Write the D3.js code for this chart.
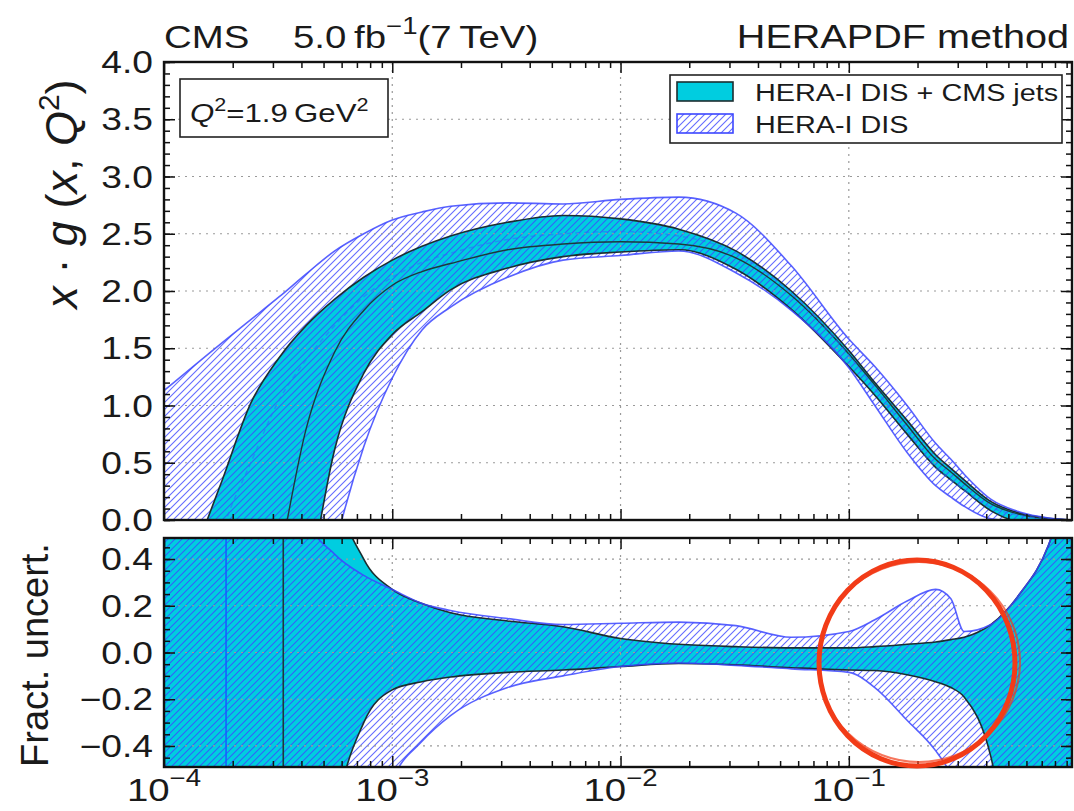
<!DOCTYPE html>
<html>
<head>
<meta charset="utf-8">
<script src="https://cdn.jsdelivr.net/npm/d3@7"></script>
<style>
  body { margin: 0; background: #fff; }
  svg text { font-family: "Liberation Sans", Arial, Helvetica, sans-serif; fill: #1a1a1a; }
</style>
</head>
<body>
<svg id="chart" width="1074" height="811"></svg>
<script>
// ---- data ----
const xGrid   = [1e-4, 1.8e-4, 2.4e-4, 3.2e-4, 4.2e-4, 5.6e-4, 7.5e-4, 1e-3, 1.35e-3, 1.8e-3, 3.2e-3, 5.6e-3, 1e-2, 1.8e-2, 3.2e-2, 5.6e-2, 0.1, 0.13, 0.18, 0.24, 0.28, 0.32, 0.42, 0.56, 0.75, 0.95];

// x*g(x,Q2), HERA-I DIS + CMS jets
const jetsUp  = [-1.0, 0.35, 1.02, 1.42, 1.70, 1.93, 2.12, 2.27, 2.39, 2.48, 2.60, 2.66, 2.63, 2.54, 2.35, 2.00, 1.48, 1.20, 0.87, 0.57, 0.45, 0.35, 0.16, 0.06, 0.014, 0.0];
const jetsMid = [-5.0, -2.8, -1.5, -0.35, 0.80, 1.47, 1.83, 2.05, 2.17, 2.24, 2.36, 2.41, 2.43, 2.41, 2.29, 1.96, 1.45, 1.18, 0.83, 0.53, 0.42, 0.32, 0.14, 0.05, 0.011, 0.0];
const jetsLo  = [-6.0, -4.5, -3.2, -1.9, -0.70, 0.62, 1.28, 1.62, 1.82, 2.01, 2.20, 2.30, 2.34, 2.36, 2.19, 1.84, 1.34, 1.09, 0.75, 0.46, 0.35, 0.26, 0.08, -0.01, -0.01, 0.0];
// x*g(x,Q2), HERA-I DIS only
const disUp   = [1.13, 1.55, 1.75, 1.95, 2.15, 2.35, 2.50, 2.62, 2.69, 2.74, 2.77, 2.76, 2.80, 2.82, 2.68, 2.22, 1.58, 1.34, 1.00, 0.67, 0.53, 0.40, 0.18, 0.07, 0.018, 0.0];
const disMid  = [-2.5, -0.1, 0.50, 1.05, 1.40, 1.70, 1.95, 2.12, 2.25, 2.33, 2.45, 2.50, 2.52, 2.48, 2.33, 1.98, 1.44, 1.15, 0.78, 0.46, 0.35, 0.26, 0.11, 0.04, 0.01, 0.0];
const disLo   = [-7.0, -5.0, -4.0, -2.8, -1.5, -0.25, 0.64, 1.24, 1.66, 1.86, 2.12, 2.27, 2.31, 2.35, 2.16, 1.83, 1.33, 1.00, 0.59, 0.30, 0.20, 0.12, 0.01, -0.01, -0.01, 0.0];

// fractional uncertainty (lower panel)
const jetsUpR = [2, 2, 2, 2, 2, 0.75, 0.40, 0.27, 0.21, 0.17, 0.135, 0.11, 0.06, 0.035, 0.025, 0.02, 0.02, 0.025, 0.035, 0.045, 0.055, 0.065, 0.12, 0.25, 0.46, 0.8];
const jetsLoR = [-2, -2, -2, -2, -2, -0.75, -0.30, -0.16, -0.125, -0.105, -0.085, -0.075, -0.06, -0.047, -0.053, -0.065, -0.075, -0.077, -0.095, -0.125, -0.15, -0.19, -0.45, -1.2, -2, -2];
const disUpR  = [2, 2, 2, 2, 0.58, 0.42, 0.33, 0.27, 0.21, 0.18, 0.145, 0.12, 0.125, 0.13, 0.115, 0.065, 0.09, 0.14, 0.22, 0.27, 0.23, 0.09, 0.12, 0.25, 0.46, 0.8];
const disLoR  = [-2, -2, -2, -2, -2, -2, -1.0, -0.55, -0.38, -0.27, -0.15, -0.10, -0.06, -0.045, -0.055, -0.07, -0.085, -0.15, -0.29, -0.42, -0.52, -0.65, -1.0, -2, -2, -2];

// where the central values cross zero (ratio blows up)
const disZeroX  = 1.87e-4;
const jetsZeroX = 3.33e-4;

const xMajor     = [1e-4, 1e-3, 1e-2, 1e-1];
const xMajorExp  = ["\u22124", "\u22123", "\u22122", "\u22121"];
const yTopTicks  = [0, 0.5, 1, 1.5, 2, 2.5, 3, 3.5, 4];
const yLowTicks  = [-0.4, -0.2, 0, 0.2, 0.4];
const legendText = ["HERA-I DIS + CMS jets", "HERA-I DIS"];

// ---- layout ----
const svg = d3.select("#chart");
const L = 164, R = 1072;
const topT = 62, topB = 520, lowT = 538, lowB = 767;
const SX = 1.2; // glyphs in the picture are wider than they are tall
const cyan = "#00cde0", blue = "#3c46ff";

const x = d3.scaleLog().domain([1e-4, 0.95]).range([L, R]);
const yTop = d3.scaleLinear().domain([0, 4]).range([topB, topT]);
const yLow = d3.scaleLinear().domain([-0.49, 0.49]).range([lowB, lowT]);

const rows = xGrid.map((xv, i) => ({
  x: xv,
  jUp: jetsUp[i], jMid: jetsMid[i], jLo: jetsLo[i],
  dUp: disUp[i], dMid: disMid[i], dLo: disLo[i],
  jUpR: jetsUpR[i], jLoR: jetsLoR[i], dUpR: disUpR[i], dLoR: disLoR[i]
}));

const defs = svg.append("defs");
const pat = defs.append("pattern").attr("id", "hatch")
  .attr("patternUnits", "userSpaceOnUse").attr("width", 7).attr("height", 7);
pat.append("path")
  .attr("d", "M-1,1 l2,-2 M0,7 l7,-7 M6,8 l2,-2")
  .attr("stroke", blue).attr("stroke-width", 1.1).attr("stroke-opacity", 0.8);

defs.append("clipPath").attr("id", "clipTop")
  .append("rect").attr("x", L).attr("y", topT).attr("width", R - L).attr("height", topB - topT);
defs.append("clipPath").attr("id", "clipLow")
  .append("rect").attr("x", L).attr("y", lowT).attr("width", R - L).attr("height", lowB - lowT);

function txt(g, px, py, anchor, size, sx) {
  return g.append("text")
    .attr("transform", "translate(" + px + "," + py + ") scale(" + sx + ",1)")
    .attr("text-anchor", anchor)
    .attr("font-size", size);
}

function drawPanel(yS, clipId, keys, gridY) {
  const g = svg.append("g").attr("clip-path", "url(#" + clipId + ")");
  const area = (lo, hi) => d3.area().curve(d3.curveMonotoneX)
    .x(d => x(d.x)).y0(d => yS(d[lo])).y1(d => yS(d[hi]));
  const line = k => d3.line().curve(d3.curveMonotoneX)
    .x(d => x(d.x)).y(d => yS(d[k]));

  // cyan band
  g.append("path").datum(rows).attr("d", area(keys.jLo, keys.jUp)).attr("fill", cyan);
  // hatched DIS band
  g.append("path").datum(rows).attr("d", area(keys.dLo, keys.dUp)).attr("fill", "url(#hatch)");

  // grid
  const [y0, y1] = yS.range();
  g.selectAll(".gx").data(xMajor.slice(1)).join("line")
    .attr("x1", d => x(d)).attr("x2", d => x(d)).attr("y1", y0).attr("y2", y1)
    .attr("stroke", "#9a9a9a").attr("stroke-width", 1.2).attr("stroke-dasharray", "2,5");
  g.selectAll(".gy").data(gridY).join("line")
    .attr("x1", L).attr("x2", R).attr("y1", d => yS(d)).attr("y2", d => yS(d))
    .attr("stroke", "#9a9a9a").attr("stroke-width", 1.2).attr("stroke-dasharray", "2,5");

  // band edges
  [keys.jLo, keys.jUp].forEach(k => g.append("path").datum(rows).attr("d", line(k))
    .attr("fill", "none").attr("stroke", "#1c2e30").attr("stroke-width", 1.6));
  if (keys.jMid) g.append("path").datum(rows).attr("d", line(keys.jMid))
    .attr("fill", "none").attr("stroke", "#1c3a3c").attr("stroke-width", 1.4);
  [keys.dLo, keys.dUp].forEach(k => g.append("path").datum(rows).attr("d", line(k))
    .attr("fill", "none").attr("stroke", blue).attr("stroke-width", 1.6).attr("stroke-opacity", 0.85));
  if (keys.dMid) g.append("path").datum(rows).attr("d", line(keys.dMid))
    .attr("fill", "none").attr("stroke", "#2a6cff").attr("stroke-width", 1.4)
    .attr("stroke-dasharray", "5,4").attr("stroke-opacity", 0.6);
  return g;
}

function drawFrame(yS, majY, minorY) {
  const [y0, y1] = yS.range();
  const minorX = [];
  xMajor.forEach(d => { for (let k = 2; k <= 9; k++) if (d * k < 0.95) minorX.push(d * k); });
  const ax = svg.append("g");
  const put = (axis, tr) => {
    const a = ax.append("g").attr("transform", tr).call(axis);
    a.select(".domain").remove();
    a.selectAll("line").attr("stroke", "#111").attr("stroke-width", 1.5);
  };
  put(d3.axisBottom(x).tickValues(xMajor).tickSize(-11).tickFormat(""), "translate(0," + y0 + ")");
  put(d3.axisBottom(x).tickValues(minorX).tickSize(-6).tickFormat(""), "translate(0," + y0 + ")");
  put(d3.axisTop(x).tickValues(xMajor).tickSize(-11).tickFormat(""), "translate(0," + y1 + ")");
  put(d3.axisTop(x).tickValues(minorX).tickSize(-6).tickFormat(""), "translate(0," + y1 + ")");
  put(d3.axisLeft(yS).tickValues(majY).tickSize(-11).tickFormat(""), "translate(" + L + ",0)");
  put(d3.axisLeft(yS).tickValues(minorY).tickSize(-6).tickFormat(""), "translate(" + L + ",0)");
  put(d3.axisRight(yS).tickValues(majY).tickSize(-11).tickFormat(""), "translate(" + R + ",0)");
  put(d3.axisRight(yS).tickValues(minorY).tickSize(-6).tickFormat(""), "translate(" + R + ",0)");
  ax.append("rect").attr("x", L).attr("y", y1).attr("width", R - L).attr("height", y0 - y1)
    .attr("fill", "none").attr("stroke", "#111").attr("stroke-width", 2.4);
}

// ---- top panel ----
drawPanel(yTop, "clipTop", { jLo: "jLo", jUp: "jUp", jMid: "jMid", dLo: "dLo", dUp: "dUp", dMid: "dMid" },
  [0.5, 1, 1.5, 2, 2.5, 3, 3.5]);
drawFrame(yTop, yTopTicks, d3.range(0, 4.001, 0.1));

// ---- lower panel ----
const low = drawPanel(yLow, "clipLow", { jLo: "jLoR", jUp: "jUpR", dLo: "dLoR", dUp: "dUpR" }, yLowTicks);
low.append("line").attr("x1", x(disZeroX)).attr("x2", x(disZeroX)).attr("y1", lowT).attr("y2", lowB)
  .attr("stroke", "#1560ff").attr("stroke-width", 1.6);
low.append("line").attr("x1", x(jetsZeroX)).attr("x2", x(jetsZeroX)).attr("y1", lowT).attr("y2", lowB)
  .attr("stroke", "#1c3a3c").attr("stroke-width", 1.6);
drawFrame(yLow, yLowTicks, d3.range(-0.45, 0.4501, 0.05));

// ---- boxes (drawn before their texts) ----
svg.append("rect").attr("x", 180).attr("y", 79).attr("width", 208).attr("height", 58)
  .attr("fill", "#fff").attr("stroke", "#222").attr("stroke-width", 1.6);
const leg = svg.append("g");
leg.append("rect").attr("x", 670).attr("y", 75).attr("width", 392).attr("height", 68)
  .attr("fill", "#fff").attr("stroke", "#222").attr("stroke-width", 1.6);
leg.append("rect").attr("x", 677).attr("y", 82).attr("width", 56).attr("height", 19)
  .attr("fill", cyan).attr("stroke", "#1c2e30").attr("stroke-width", 1.6);
leg.append("rect").attr("x", 677).attr("y", 114).attr("width", 56).attr("height", 19)
  .attr("fill", "url(#hatch)").attr("stroke", blue).attr("stroke-width", 1.6);

// ---- texts ----
const lab = svg.append("g");
yTopTicks.forEach(v => txt(lab, 153, yTop(v) + 11, "end", 31, SX).text(v.toFixed(1)));
yLowTicks.forEach(v => txt(lab, 153, yLow(v) + 11, "end", 31, SX)
  .text((v < 0 ? "\u2212" : "") + Math.abs(v).toFixed(1)));
xMajor.forEach((v, i) => {
  const t = txt(lab, x(v), 801, "middle", 32, SX);
  t.append("tspan").text("10");
  t.append("tspan").attr("dy", -15).attr("font-size", 23).text(xMajorExp[i]);
});

// axis titles
const yl = lab.append("text").attr("transform", "translate(77,194) rotate(-90)")
  .attr("text-anchor", "middle").attr("font-size", 45);
yl.append("tspan").attr("font-style", "italic").text("x");
yl.append("tspan").text(" \u00b7 ");
yl.append("tspan").attr("font-style", "italic").text("g");
yl.append("tspan").text(" (");
yl.append("tspan").attr("font-style", "italic").text("x");
yl.append("tspan").text(", ");
yl.append("tspan").attr("font-style", "italic").text("Q");
yl.append("tspan").attr("dy", -18).attr("font-size", 30).text("2");
yl.append("tspan").attr("dy", 18).text(")");

lab.append("text").attr("transform", "translate(48,655) rotate(-90)")
  .attr("text-anchor", "middle").attr("font-size", 38).text("Fract. uncert.");

// header
txt(lab, 164, 48, "start", 32, SX).text("CMS");
const lumi = txt(lab, 293, 48, "start", 32, SX);
lumi.append("tspan").text("5.0\u2009fb");
lumi.append("tspan").attr("dy", -14).attr("font-size", 23).text("\u22121");
lumi.append("tspan").attr("dy", 14).text("(7\u2009TeV)");
txt(lab, 1069, 48, "end", 33, SX).text("HERAPDF method");

// Q2 label
const q = txt(lab, 190, 122, "start", 26, SX);
q.append("tspan").attr("font-style", "italic").text("Q");
q.append("tspan").attr("dy", -11).attr("font-size", 18).text("2");
q.append("tspan").attr("dy", 11).text("=1.9\u2009GeV");
q.append("tspan").attr("dy", -11).attr("font-size", 18).text("2");

legendText.forEach((s, i) => txt(leg, 755, 101 + i * 32, "start", 24, SX).text(s));

// hand-drawn red circle annotation
const ann = svg.append("g").attr("fill", "none").attr("stroke", "#f23c18");
ann.append("ellipse").attr("cx", 917).attr("cy", 663).attr("rx", 98).attr("ry", 103).attr("stroke-width", 5);
ann.append("ellipse").attr("cx", 919).attr("cy", 662).attr("rx", 101).attr("ry", 100)
  .attr("stroke-width", 2).attr("stroke-opacity", 0.7);
</script>
</body>
</html>
